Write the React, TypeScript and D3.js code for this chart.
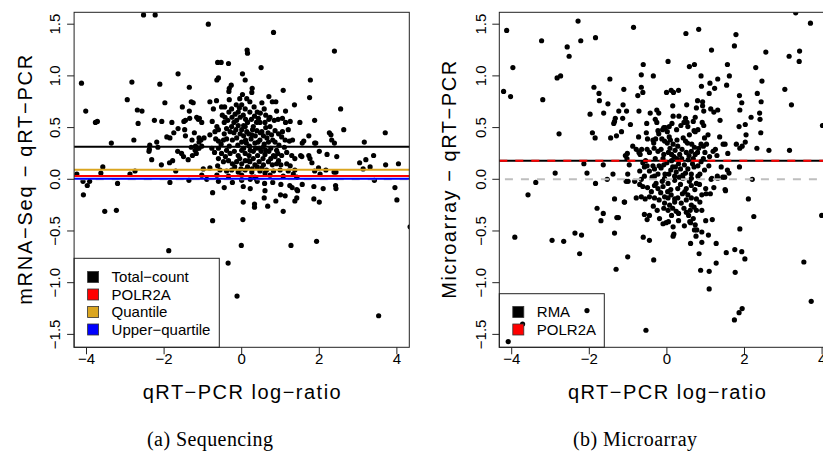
import React from "react";
import * as d3 from "d3";

// ---------- DATA ----------
const xTicks = [-4, -2, 0, 2, 4];
const yTicks = [-1.5, -1.0, -0.5, 0.0, 0.5, 1.0, 1.5];

const seqLegend = ["Total\u2212count", "POLR2A", "Quantile", "Upper\u2212quartile"];
const seqLineValues = [0.315, 0.032, 0.093, 0.006];
const seqLineColors = ["#000000", "#FF0000", "#DAA520", "#0000FF"];

const maLegend = ["RMA", "POLR2A"];
const maLineValues = [0.18, 0.18];
const maLineColors = ["#000000", "#FF0000"];

// [qRT-PCR log-ratio, difference]
const seqPoints: [number, number][] = [
  [-2.53,1.59],[-2.23,1.59],[-4.13,0.93],[-2.83,0.94],[-1.64,1.02],[-2.11,0.92],[-1.35,0.89],[-4.02,0.66],[-2.95,0.77],[-2.69,0.67],[-2.57,0.66],[-1.98,0.74],[-1.53,0.70],[-1.30,0.75],[-1.25,0.74],[-1.35,0.66],[-3.77,0.55],[-3.72,0.56],[-2.67,0.54],[-2.25,0.57],[-2.06,0.56],[-1.80,0.55],[-1.64,0.49],[-1.47,0.48],[-1.49,0.56],[-1.45,0.57],[-1.34,0.59],[-1.12,0.58],[-1.16,0.60],[-2.78,0.38],[-3.36,0.35],[-2.19,0.36],[-2.37,0.33],[-1.93,0.41],[-1.85,0.40],[-1.75,0.45],[-2.38,0.29],[-2.39,0.27],[-2.16,0.31],[-2.32,0.19],[-2.07,0.14],[-1.86,0.16],[-1.78,0.18],[-1.65,0.27],[-1.55,0.25],[-1.50,0.22],[-1.38,0.19],[-1.27,0.23],[-1.19,0.32],[-1.14,0.30],[-1.30,0.31],[-1.17,0.25],[-3.58,0.12],[-3.63,0.06],[-4.25,0.05],[-2.88,0.05],[-2.75,0.08],[-1.70,0.08],[-4.09,-0.02],[-3.98,-0.06],[-3.92,-0.02],[-3.20,-0.04],[-1.85,-0.03],[-1.36,-0.01],[-4.08,-0.15],[-3.53,-0.31],[-3.23,-0.30],[-1.88,-0.69],
  [-1.45,0.42],[-1.22,0.45],[-1.10,0.40],[-1.28,0.38],[-1.10,0.36],
  [-0.86,1.50],[0.82,1.42],[0.14,1.25],[0.15,1.22],[-0.62,1.13],[-0.53,1.13],[-0.34,1.12],[0.50,1.08],[-0.64,0.96],[-0.60,0.98],[0.02,1.02],[0.09,0.96],[-0.27,0.91],[-0.32,0.88],[-0.33,0.85],[0.27,0.88],[0.26,0.84],[1.07,0.86],[-0.82,0.75],[-0.65,0.76],[-0.73,0.68],[-0.52,0.70],[-0.32,0.77],[0.02,0.82],[0.13,0.78],[0.21,0.75],[0.70,0.80],[0.79,0.75],[0.88,0.75],[0.52,0.74],[1.36,0.72],[0.58,0.68],[0.90,0.66],[1.13,0.66],[-0.14,0.72],[-0.06,0.69],[0.0,0.72],[0.09,0.68],[-0.26,0.68],[-0.33,0.65],[-1.09,0.59],[-1.03,0.55],[-0.76,0.56],[-0.43,0.60],[-0.36,0.57],[-0.45,0.55],[-0.17,0.63],[-0.09,0.65],[-0.04,0.60],[0.04,0.62],[-0.13,0.57],[0.21,0.65],[0.33,0.61],[0.43,0.59],[0.47,0.55],[0.60,0.55],[0.73,0.60],[0.84,0.57],[1.05,0.59],[1.13,0.55],[1.25,0.56],[-0.64,0.51],[-0.60,0.48],[-0.69,0.46],[-0.97,0.40],[-1.05,0.38],[-0.82,0.43],[-0.39,0.49],[-0.26,0.51],[-0.30,0.46],[-0.09,0.52],[0.0,0.48],[0.09,0.51],[0.13,0.46],[-0.04,0.44],[0.30,0.51],[0.39,0.47],[0.26,0.43],[0.52,0.46],[0.56,0.42],[0.73,0.51],[0.86,0.47],[0.77,0.43],[0.95,0.44],[1.03,0.41],[1.12,0.38],[1.23,0.37],[1.31,0.38],[-0.67,0.39],[-0.60,0.37],[-0.53,0.34],[-0.47,0.38],[-0.39,0.39],[-0.24,0.38],[-0.13,0.40],[0.0,0.36],[0.10,0.38],[0.24,0.39],[0.34,0.35],[0.47,0.38],[0.58,0.34],[0.69,0.36],[0.86,0.36],[0.96,0.33],[-1.16,0.31],[-1.10,0.30],[-1.03,0.32],[-1.20,0.28],[-0.77,0.30],[-0.70,0.26],[-0.60,0.30],[-0.52,0.25],[-0.39,0.28],[-0.30,0.25],[-0.19,0.27],[-0.09,0.23],[0.0,0.28],[0.09,0.25],[0.19,0.23],[0.30,0.27],[0.41,0.23],[0.50,0.27],[0.60,0.24],[0.70,0.27],[0.82,0.23],[0.93,0.25],[1.03,0.23],[1.16,0.26],[1.29,0.23],[1.37,0.20],[-0.60,0.20],[-0.47,0.17],[-0.34,0.18],[-0.24,0.15],[-0.13,0.17],[0.0,0.15],[0.09,0.18],[0.21,0.17],[0.34,0.14],[0.45,0.17],[0.56,0.14],[0.69,0.17],[0.79,0.14],[0.90,0.15],[1.01,0.14],[1.16,0.15],[1.25,0.13],[-0.99,0.10],[-0.82,0.11],
  [-0.56,0.09],[-0.39,0.08],[-0.26,0.09],[-0.09,0.07],[0.09,0.09],[0.26,0.07],[0.47,0.08],[0.64,0.09],[0.82,0.08],[0.99,0.09],[1.20,0.08],[1.37,0.09],
  [-1.03,0.04],[-0.64,0.04],[-0.34,0.03],[0.0,0.04],[0.34,0.02],[0.73,0.04],[1.07,0.03],[1.33,0.05],
  [-0.2,0.45],[0.15,0.55],[0.35,0.42],[0.62,0.50],[0.45,0.30],[0.2,0.32],[-0.1,0.33],[0.75,0.30],[0.55,0.20],[0.3,0.20],[-0.05,0.2],[0.65,0.40],[0.05,0.42],[-0.45,0.44],[0.25,0.58],[-0.2,0.55],[0.9,0.28],[1.1,0.31],[0.4,0.65],[-0.5,0.62],
  [0.05,0.30],[0.12,0.35],[0.18,0.44],[0.28,0.48],[0.36,0.30],[0.42,0.36],[0.48,0.45],[0.55,0.31],[0.62,0.28],[0.68,0.45],[0.80,0.38],[0.86,0.22],[0.95,0.18],[0.40,0.12],[0.52,0.11],[0.15,0.12],[-0.02,0.10],[-0.18,0.12],[-0.32,0.32],[-0.42,0.22],[-0.15,0.48],[-0.25,0.60],[0.10,0.58],[0.32,0.70],[0.48,0.64],[0.62,0.62],[0.70,0.58],[-0.05,0.78],[-0.44,0.70],[0.18,0.18],[0.27,0.10],[0.60,0.06],[0.75,0.20],[1.05,0.46],[1.20,0.48],[0.94,0.58],[0.38,0.55],[-0.62,0.13],[0.05,0.52],[0.22,0.28],
  [-0.75,-0.13],[-0.45,-0.08],[-0.24,-0.03],[0.04,-0.07],[0.22,-0.09],[0.0,-0.01],[0.59,-0.04],[0.80,-0.03],[1.01,-0.05],[1.24,-0.06],[1.30,-0.08],[1.42,-0.10],[0.60,-0.11],[0.04,-0.22],[0.33,-0.24],[0.33,-0.27],[0.58,-0.18],[0.67,-0.26],[0.88,-0.21],[1.00,-0.15],[1.12,-0.16],[1.07,-0.31],[1.37,-0.21],[-0.75,-0.40],[0.03,-0.39],[-0.01,-0.64],[1.27,-0.64],[-0.35,-0.81],[-0.12,-1.13],[0.40,-0.02],[0.22,0.0],[0.38,0.0],[-0.9,0.0],[-0.6,-0.02],
  [2.39,1.24],[1.77,0.96],[1.75,0.79],[2.55,0.68],[1.50,0.55],[1.88,0.57],[2.63,0.48],[1.73,0.42],[2.26,0.45],[2.30,0.43],[2.32,0.38],[2.39,0.35],[3.70,0.45],[3.16,0.36],[1.60,0.37],[1.56,0.35],[1.88,0.35],[1.91,0.35],[1.52,0.23],[1.55,0.22],[1.73,0.23],[1.76,0.20],[2.0,0.27],[2.20,0.24],[2.45,0.22],[1.81,0.16],[1.98,0.11],[1.88,0.08],[2.02,0.05],[2.17,0.09],[2.38,0.07],[2.43,0.07],[3.04,0.16],[3.20,0.19],[3.40,0.23],[3.13,0.10],[3.31,0.12],[3.71,0.14],[4.04,0.15],[3.42,-0.01],[3.95,-0.08],[4.00,-0.20],[4.34,-0.46],[1.42,0.02],[1.56,-0.05],[1.44,-0.11],[1.42,-0.18],[1.86,-0.07],[2.10,-0.09],[1.86,-0.19],[2.00,-0.22],[2.42,-0.06],[2.43,-0.09],[1.93,-0.60],[3.53,-1.32],
];

const maPoints: [number, number][] = [
  [-4.13,1.44],[-2.29,1.53],[-3.23,1.34],[-2.22,1.34],[-1.84,1.37],[-2.57,1.28],[-2.52,1.19],[-3.97,1.08],[-2.83,0.98],[-2.74,1.00],[-1.47,0.97],[-4.21,0.85],[-4.03,0.80],[-3.20,0.77],[-1.88,0.89],[-1.75,0.83],[-1.74,0.76],[-1.11,0.87],[-1.52,0.73],[-1.98,0.63],[-1.63,0.64],[-1.24,0.66],[-1.04,0.66],[-1.13,0.72],[-1.33,0.59],[-1.35,0.56],[-1.37,0.54],[-1.14,0.59],[-2.78,0.44],[-1.92,0.45],[-1.85,0.40],[-1.45,0.40],[-1.30,0.42],[-1.17,0.46],[-1.07,0.23],[-1.03,0.20],[-2.14,0.15],[-1.64,0.14],[-2.88,0.06],[-2.06,0.06],[-1.39,0.05],[-3.38,-0.03],[-1.84,-0.04],[-1.54,0.00],[-1.01,0.05],[-1.00,-0.02],[-3.58,-0.15],[-1.35,-0.19],[-1.10,-0.22],[-1.80,-0.28],[-1.64,-0.33],[-1.70,-0.40],[-1.29,-0.37],[-1.25,-0.37],[-3.92,-0.56],[-2.96,-0.59],[-2.66,-0.60],[-2.37,-0.52],[-2.20,-0.54],[-1.35,-0.52],[-2.25,-0.72],[-1.01,-0.75],[-1.31,-0.87],[-2.06,-1.27],[-3.72,-1.40],[-4.09,-1.57],
  [-0.61,-0.56],[-0.45,-0.59],[-0.34,-0.78],[0.16,-0.46],[0.16,-0.55],[0.18,-0.53],[-0.10,-0.43],[-0.02,-0.42],[0.04,-0.41],[-0.19,-0.38],[0.61,-0.42],[0.73,-0.44],[0.77,-0.49],[0.75,-0.55],[0.90,-0.51],[1.07,-0.54],[0.61,-0.62],[0.90,-0.61],[0.83,-0.72],[1.27,-0.62],[1.27,-0.81],[0.87,-0.88],[1.09,-0.89],[1.09,-1.06],[1.17,-0.39],[-0.54,-1.46],[-0.58,-0.34],[-0.51,-0.39],[0.59,-0.41],[0.71,-0.49],
  [-1.05,-0.02],[-0.83,-0.02],[-0.66,0.0],[-0.58,0.03],[-0.32,0.03],[-0.06,0.01],[0.20,-0.01],[0.41,0.01],[0.63,0.01],[0.80,0.03],[1.14,0.0],[1.31,0.01],[1.44,0.02],
  [-0.62,-0.07],[-0.32,-0.06],[-0.23,-0.09],[-0.10,-0.07],[0.03,-0.04],[0.28,-0.09],[0.50,-0.09],[0.63,-0.06],[0.76,-0.04],[1.0,-0.09],[1.21,-0.08],[1.50,-0.10],
  [-0.79,-0.18],[-0.66,-0.17],[-0.56,-0.19],[-0.45,-0.17],[-0.32,-0.18],[-0.16,-0.13],[-0.06,-0.17],[0.03,-0.18],[0.11,-0.15],[0.20,-0.19],[0.46,-0.12],[0.54,-0.15],[0.63,-0.18],[0.76,-0.19],[0.90,-0.15],[1.01,-0.14],[1.12,-0.14],[-1.09,-0.22],
  [-0.06,-0.23],[0.07,-0.25],[0.20,-0.22],[0.37,-0.23],[0.63,-0.25],[0.70,-0.27],
  [-0.08,-0.28],[0.03,-0.30],[0.24,-0.31],[0.30,-0.33],[0.50,-0.32],[0.56,-0.35],[0.76,-0.30],[0.90,-0.30],
  [0.05,0.05],[0.12,0.18],[0.22,0.12],[0.32,0.02],[0.38,0.20],[0.48,0.06],[0.58,-0.02],[0.66,0.15],[0.72,-0.10],[0.84,-0.05],[0.94,0.20],[-0.12,-0.02],[-0.20,0.13],[-0.28,-0.04],[-0.38,0.02],[-0.50,-0.08],[-0.58,0.12],[-0.70,-0.05],[0.02,-0.12],[0.15,-0.28],[0.28,-0.18],[0.40,-0.14],[0.44,-0.28],[0.60,-0.30],[0.68,-0.38],[0.85,-0.22],[-0.25,-0.30],[-0.35,-0.26],[0.08,0.30],[0.18,0.22],[-0.10,0.20],[0.68,0.20],[0.88,0.17],[1.10,0.22],[0.30,-0.40],[0.45,-0.45],[1.0,-0.40],[-0.45,-0.35],[0.12,-0.35],[0.26,0.38],
  [-0.86,1.47],[0.49,1.41],[0.82,1.45],[1.15,1.25],[0.03,1.14],[-0.61,1.11],[0.58,1.09],[0.71,1.11],[-0.66,1.01],[-0.35,1.00],[0.88,1.00],[0.89,0.90],[1.11,0.93],[1.23,0.88],[1.31,0.97],[-0.66,0.89],[-0.62,0.84],[-0.75,0.81],[-0.01,0.84],[0.11,0.86],[0.30,0.86],[0.17,0.84],[1.09,0.83],[0.15,0.71],[0.51,0.72],[0.79,0.76],[0.92,0.75],[0.92,0.71],[0.76,0.69],[0.95,0.66],[1.13,0.68],[1.21,0.65],[1.31,0.67],[-0.72,0.66],[-0.43,0.64],[-0.26,0.67],[-0.21,0.64],[0.16,0.61],[0.31,0.61],[0.48,0.59],[0.73,0.60],[0.68,0.56],[0.52,0.55],[-0.30,0.58],[-0.26,0.55],[-0.94,0.53],[-0.52,0.54],[-0.04,0.50],[0.06,0.51],[0.13,0.54],[0.91,0.55],[0.95,0.52],[1.37,0.57],[-0.53,0.45],[-0.50,0.39],[-0.73,0.41],[-0.23,0.47],[-0.21,0.44],[-0.11,0.48],[-0.08,0.50],[0.01,0.46],[0.25,0.48],[0.36,0.52],[0.44,0.55],[0.54,0.51],[0.70,0.47],[0.73,0.46],[0.80,0.48],[0.58,0.43],[0.97,0.40],[1.06,0.43],[1.36,0.41],[0.88,0.34],[-0.36,0.38],[-0.29,0.39],[-0.34,0.35],[-0.13,0.39],[-0.06,0.37],[0.06,0.41],[0.09,0.38],[0.01,0.35],[0.16,0.34],[0.28,0.32],[0.42,0.40],[0.48,0.37],[0.53,0.35],[0.64,0.34],[0.71,0.31],[0.82,0.30],[0.94,0.32],[1.02,0.34],[1.45,0.34],[-0.88,0.32],[-0.79,0.29],[-0.72,0.26],[-0.65,0.29],[-0.69,0.24],[-0.51,0.29],[-0.45,0.26],[-0.33,0.30],[-0.23,0.27],[-0.15,0.29],[-0.08,0.24],[0.04,0.26],[0.12,0.24],[0.21,0.28],[0.33,0.24],[0.39,0.29],[0.50,0.26],[0.57,0.23],[0.63,0.27],[0.73,0.24],[0.79,0.26],[0.98,0.26],[1.19,0.27],[1.25,0.29],[1.29,0.23],[-1.02,0.25],
  [-0.97,0.14],[-0.62,0.16],[-0.51,0.13],[-0.36,0.13],[-0.32,0.10],[-0.23,0.05],[-0.08,0.14],[0.10,0.09],[0.24,0.07],[0.35,0.10],[0.41,0.04],[0.54,0.10],[0.63,0.05],[0.80,0.13],[0.97,0.09],[1.08,0.13],[1.16,0.01],[1.30,0.03],[1.40,0.12],[1.49,0.02],
  [-0.45,0.08],[-0.15,0.11],[0.0,0.16],[0.15,0.12],[0.30,0.15],[0.45,0.14],[0.7,0.12],[0.2,0.03],[-0.05,0.05],[0.85,0.05],[-0.7,0.08],[0.1,-0.1],[0.35,-0.05],[-0.4,-0.12],[0.5,-0.2],[-0.2,-0.2],[0.25,0.2],[-0.3,0.2],[0.55,0.19],[-0.55,0.18],
  [3.32,1.61],[3.70,1.51],[1.78,1.40],[1.74,1.29],[2.55,1.23],[3.15,1.19],[3.42,1.24],[3.41,1.14],[1.56,1.11],[2.29,1.08],[1.61,1.00],[1.54,0.91],[2.45,0.95],[1.87,0.81],[1.93,0.74],[1.88,0.67],[2.33,0.83],[2.43,0.75],[3.04,0.87],[3.21,0.72],[2.17,0.60],[2.39,0.64],[2.40,0.58],[2.02,0.53],[1.86,0.51],[2.04,0.43],[2.42,0.45],[4.01,0.52],[1.79,0.34],[1.88,0.30],[1.94,0.32],[2.02,0.36],[2.32,0.30],[2.63,0.28],[3.16,0.28],[1.57,0.25],[1.50,0.34],[1.56,0.09],[1.60,0.06],[1.87,0.12],[2.20,0.00],[1.51,-0.11],[2.10,-0.19],[2.24,-0.36],[3.99,-0.35],[1.88,-0.48],[1.53,-0.71],[1.75,-0.68],[1.93,-0.70],[2.01,-0.77],[1.76,-0.90],[3.53,-0.80],[3.72,-1.18],[1.94,-1.25],[1.86,-1.29],[1.74,-1.36],
];

const SANS = "'Liberation Sans', Arial, Helvetica, sans-serif";
const SERIF = "'Liberation Serif', 'Times New Roman', serif";

type PanelProps = {
  id: string;
  left: number;
  points: [number, number][];
  yTitle: string;
  yTitleLen: number;
  yTitleX: number;
  yTickLabelX: number;
  caption: string;
  captionLen: number;
  captionX: number;
  legend: string[];
  legendColors: string[];
  legendBox: { x1: number; y1: number };
  legendRowY: number[];
  renderLines: (x: d3.ScaleLinear<number, number>, y: d3.ScaleLinear<number, number>) => React.ReactNode;
};

const TOP = 12.3;
const BOTTOM = 347.3;
const WIDTH = 335.2;

function Panel(p: PanelProps) {
  const x0 = p.left;
  const x = d3.scaleLinear().domain([-4.32, 4.32]).range([x0, x0 + WIDTH]);
  const y = d3.scaleLinear().domain([-1.625, 1.615]).range([BOTTOM, TOP]);
  const fmt = (v: number) => d3.format(".1f")(v).replace("-", "\u2212");
  const cx = x(0);
  const cy = (TOP + BOTTOM) / 2;
  return (
    <g>
      <defs>
        <clipPath id={p.id}>
          <rect x={x0} y={TOP} width={WIDTH} height={BOTTOM - TOP} />
        </clipPath>
      </defs>
      <g clipPath={`url(#${p.id})`}>
        {p.points.map((d, i) => (
          <circle key={i} cx={x(d[0])} cy={y(d[1])} r={2.6} fill="#000" />
        ))}
        {p.renderLines(x, y)}
      </g>
      <rect x={x0} y={TOP} width={WIDTH} height={BOTTOM - TOP} fill="none" stroke="#222" strokeWidth={1} />
      {xTicks.map((t) => (
        <g key={"x" + t}>
          <line x1={x(t)} x2={x(t)} y1={BOTTOM} y2={BOTTOM + 7} stroke="#222" />
          <text x={x(t)} y={364} textAnchor="middle" fontSize={15} fontFamily={SANS}>
            {String(t).replace("-", "\u2212")}
          </text>
        </g>
      ))}
      {yTicks.map((t) => (
        <g key={"y" + t}>
          <line x1={x0} x2={x0 - 7} y1={y(t)} y2={y(t)} stroke="#222" />
          <text
            transform={`translate(${p.yTickLabelX},${y(t)}) rotate(-90)`}
            textAnchor="middle"
            fontSize={15}
            fontFamily={SANS}
          >
            {fmt(t)}
          </text>
        </g>
      ))}
      <text x={cx} y={399} textAnchor="middle" fontSize={20} fontFamily={SANS} textLength={198} lengthAdjust="spacing">
        qRT{"\u2212"}PCR log{"\u2212"}ratio
      </text>
      <text
        transform={`translate(${p.yTitleX},${cy}) rotate(-90)`}
        textAnchor="middle"
        fontSize={20}
        fontFamily={SANS}
        textLength={p.yTitleLen}
        lengthAdjust="spacing"
      >
        {p.yTitle}
      </text>
      <text x={p.captionX} y={446} textAnchor="middle" fontSize={20} fontFamily={SERIF} textLength={p.captionLen} lengthAdjust="spacing">
        {p.caption}
      </text>
      <rect
        x={x0}
        y={p.legendBox.y1}
        width={p.legendBox.x1 - x0}
        height={BOTTOM - p.legendBox.y1}
        fill="none"
        stroke="#222"
        strokeWidth={1}
      />
      {p.legend.map((name, i) => (
        <g key={name}>
          <rect
            x={x0 + 13.5}
            y={p.legendRowY[i] - 5.5}
            width={11}
            height={11}
            fill={p.legendColors[i]}
            stroke="#333"
            strokeWidth={0.8}
          />
          <text x={x0 + 37.5} y={p.legendRowY[i] + 5.3} fontSize={15} fontFamily={SANS}>
            {name}
          </text>
        </g>
      ))}
    </g>
  );
}

export default function App() {
  return (
    <svg
      width={823}
      height={452}
      style={{ position: "absolute", left: 0, top: 0, background: "#fff" }}
    >
      <rect width={823} height={452} fill="#fff" />
      <Panel
        id="clipSeq"
        left={74.1}
        points={seqPoints}
        yTitle={"mRNA\u2212Seq \u2212 qRT\u2212PCR"}
        yTitleLen={250}
        yTitleX={32}
        yTickLabelX={59.5}
        caption="(a) Sequencing"
        captionLen={126}
        captionX={210}
        legend={seqLegend}
        legendColors={seqLineColors}
        legendBox={{ x1: 219.3, y1: 258.3 }}
        legendRowY={[277, 294.5, 312, 329.5]}
        renderLines={(x, y) => (
          <g>
            <line x1={x(-5)} x2={x(5)} y1={y(0)} y2={y(0)} stroke="#BEBEBE" strokeWidth={2} strokeDasharray="8,8" />
            {[2, 1, 3, 0].map((k) => (
              <line
                key={k}
                x1={x(-5)}
                x2={x(5)}
                y1={y(seqLineValues[k])}
                y2={y(seqLineValues[k])}
                stroke={seqLineColors[k]}
                strokeWidth={2}
              />
            ))}
          </g>
        )}
      />
      <Panel
        id="clipMa"
        left={499.3}
        points={maPoints}
        yTitle={"Microarray \u2212 qRT\u2212PCR"}
        yTitleLen={238}
        yTitleX={456}
        yTickLabelX={485.5}
        caption="(b) Microarray"
        captionLen={124}
        captionX={635}
        legend={maLegend}
        legendColors={maLineColors}
        legendBox={{ x1: 604.3, y1: 293.7 }}
        legendRowY={[312, 329.5]}
        renderLines={(x, y) => (
          <g>
            <line x1={x(-5)} x2={x(5)} y1={y(0)} y2={y(0)} stroke="#BEBEBE" strokeWidth={2} strokeDasharray="8,8" />
            <line x1={x(-5)} x2={x(5)} y1={y(maLineValues[0])} y2={y(maLineValues[0])} stroke={maLineColors[0]} strokeWidth={2} />
            <line x1={x(-4.32)} x2={x(5)} y1={y(maLineValues[1])} y2={y(maLineValues[1])} stroke={maLineColors[1]} strokeWidth={2} strokeDasharray="8,8" />
          </g>
        )}
      />
    </svg>
  );
}
